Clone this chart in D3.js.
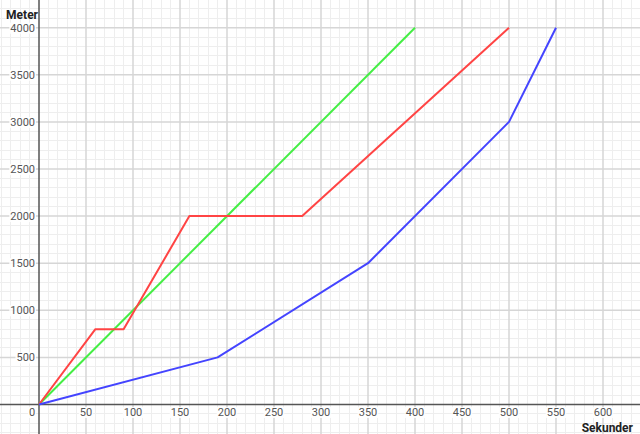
<!DOCTYPE html>
<html><head><meta charset="utf-8">
<script src="https://cdn.jsdelivr.net/npm/d3@7"></script>
<style>html,body{margin:0;padding:0;background:#fff;overflow:hidden}</style>
</head><body>
<svg id="c" width="640" height="434"></svg>
<script>
const xTicks = [50,100,150,200,250,300,350,400,450,500,550,600];
const yTicks = [500,1000,1500,2000,2500,3000,3500,4000];
const greenX = [0,400];
const greenY = [0,4000];
const redX = [0,60,90,160,280,500];
const redY = [0,800,800,2000,2000,4000];
const blueX = [0,190,350,500,550];
const blueY = [0,500,1500,3000,4000];
const xLabel = "Sekunder";
const yLabel = "Meter";

const W=640,H=434;
const svg=d3.select("#c");
const x=d3.scaleLinear().domain([0,600]).range([39,603]);
const y=d3.scaleLinear().domain([0,4000]).range([404.5,27.7]);
const xMin=x.invert(0), xMax=x.invert(W), yMin=y.invert(H), yMax=y.invert(0);

const g=svg.append("g");
// minor grid
d3.range(Math.ceil(xMin/10)*10, xMax, 10).forEach(v=>{
  if(v%50!==0) g.append("line").attr("x1",x(v)).attr("x2",x(v)).attr("y1",0).attr("y2",H).attr("stroke","#eeeeee").attr("stroke-width",1).attr("shape-rendering","crispEdges");
});
d3.range(Math.ceil(yMin/100)*100, yMax, 100).forEach(v=>{
  if(v%500!==0) g.append("line").attr("y1",y(v)).attr("y2",y(v)).attr("x1",0).attr("x2",W).attr("stroke","#eeeeee").attr("stroke-width",1).attr("shape-rendering","crispEdges");
});
// major grid
d3.range(Math.ceil(xMin/50)*50, xMax, 50).forEach(v=>{
  if(v!==0) g.append("line").attr("x1",x(v)).attr("x2",x(v)).attr("y1",0).attr("y2",H).attr("stroke","#d6d6d6").attr("stroke-width",1.5);
});
d3.range(Math.ceil(yMin/500)*500, yMax, 500).forEach(v=>{
  if(v!==0) g.append("line").attr("y1",y(v)).attr("y2",y(v)).attr("x1",0).attr("x2",W).attr("stroke","#d6d6d6").attr("stroke-width",1.5);
});
// axes
svg.append("line").attr("x1",0).attr("x2",W).attr("y1",y(0)).attr("y2",y(0)).attr("stroke","#555").attr("stroke-width",1.5);
svg.append("line").attr("x1",x(0)).attr("x2",x(0)).attr("y1",0).attr("y2",H).attr("stroke","#555").attr("stroke-width",1.5);

// tick labels
const font="Roboto, 'Liberation Sans', Arial, sans-serif";
function label(tx,ty,t,anchor){
  const te=svg.append("text").attr("x",tx).attr("y",ty).attr("text-anchor",anchor).attr("font-family",font).attr("font-size",11).attr("fill","#555").text(t);
  const b=te.node().getBBox();
  svg.insert("rect","text").attr("x",b.x-1).attr("y",b.y+1).attr("width",b.width+2).attr("height",b.height-2).attr("fill","#fff").attr("opacity",0.85);
}
xTicks.forEach(v=>label(x(v),416,String(v),"middle"));
yTicks.forEach(v=>label(x(0)-4,y(v)+4,String(v),"end"));
label(x(0)-7,416,"0","middle");

// lines
const lg=d3.line().x(d=>x(d[0])).y(d=>y(d[1]));
function series(xs,ys,col){
  svg.append("path").datum(xs.map((v,i)=>[v,ys[i]])).attr("d",lg).attr("fill","none").attr("stroke",col).attr("stroke-width",2).attr("stroke-linejoin","round");
}
series(greenX,greenY,"#44ee44");
series(redX,redY,"#ff4444");
series(blueX,blueY,"#4444ff");

// axis titles
svg.append("text").attr("x",x(0)-1).attr("y",19).attr("text-anchor","end").attr("font-family",font).attr("font-weight","bold").attr("font-size",12).attr("fill","#222").text(yLabel);
svg.append("text").attr("x",633).attr("y",432).attr("text-anchor","end").attr("font-family",font).attr("font-weight","bold").attr("font-size",12).attr("fill","#222").text(xLabel);
</script>
</body></html>
